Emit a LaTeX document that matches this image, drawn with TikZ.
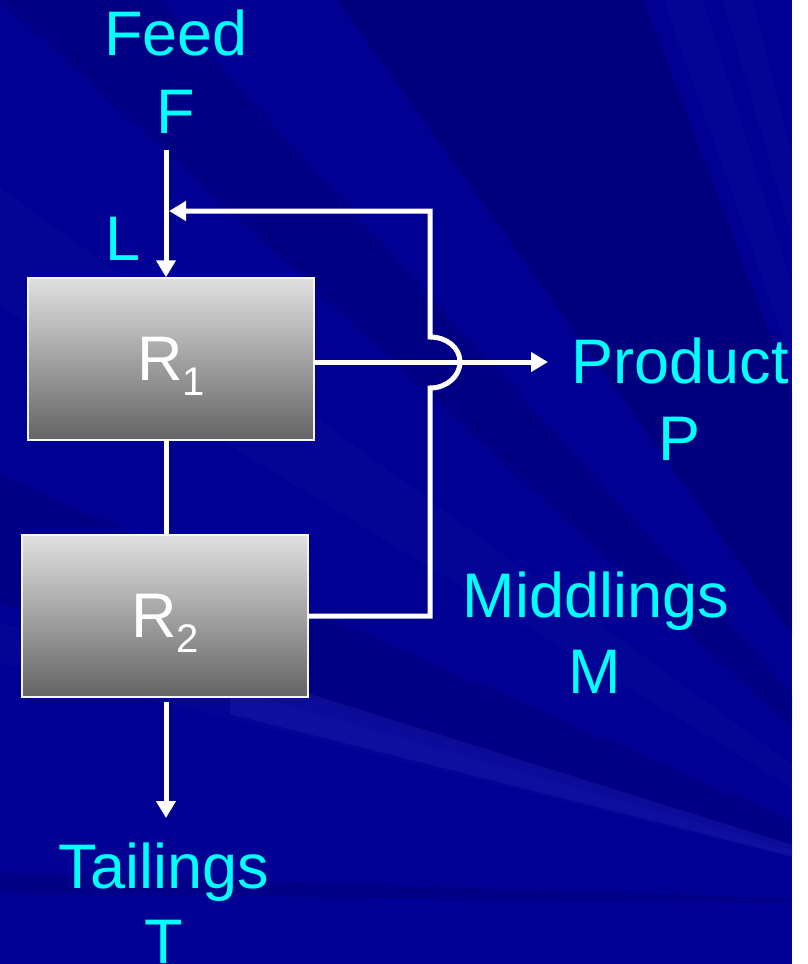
\documentclass[tikz,border=0pt]{standalone}
\usepackage{fontspec}
\setmainfont{Liberation Sans}
\usetikzlibrary{arrows.meta}
\definecolor{bgblue}{RGB}{0,0,146}
\definecolor{bgdark}{RGB}{0,0,100}
\definecolor{bglight}{RGB}{40,40,175}
\definecolor{labcyan}{RGB}{0,255,255}
\definecolor{boxtop}{RGB}{224,224,224}
\definecolor{boxbot}{RGB}{100,100,100}
\begin{document}
\begin{tikzpicture}[x=1pt,y=-1pt,
  lbl/.style={text=labcyan, font=\fontsize{63}{75}\selectfont, anchor=base, inner sep=0pt},
  reactor/.style={draw=white!92!gray, line width=1.5pt, minimum width=286pt, minimum height=162pt,
    top color=boxtop, bottom color=boxbot, text=white, font=\fontsize{63}{75}\selectfont,
    inner sep=0pt, text depth=0pt},
  flow/.style={draw=white, line width=5pt, line join=miter},
  tip/.style={-{Triangle[length=17pt,width=19pt]}}
]
% background
\fill[white] (0,0) rectangle (808,964);
\fill[bgblue] (0,0) rectangle (792,964);
\begin{scope}
  \clip (0,0) rectangle (792,964);
  \coordinate (S) at (985,905);
  \fill[bgdark, opacity=0.4] (S) -- (330,-10) -- (640,-10) -- cycle;
  \fill[bgdark, opacity=0.3] (S) -- (-10,-10) -- (150,-10) -- cycle;
  \fill[bglight, opacity=0.12] (S) -- (660,-10) -- (700,-10) -- cycle;
  \fill[bglight, opacity=0.12] (S) -- (720,-10) -- (750,-10) -- cycle;
  \fill[bglight, opacity=0.12] (S) -- (-10,180) -- (-10,300) -- cycle;
  \fill[bgdark, opacity=0.25] (S) -- (-10,470) -- (-10,600) -- cycle;
  \fill[bglight, opacity=0.12] (S) -- (-10,620) -- (-10,660) -- cycle;
  \fill[bglight, opacity=0.32] (230,669) -- (S) -- (230,714) -- cycle;
  \fill[bgdark, opacity=0.25] (-10,872) -- (S) -- (-10,893) -- cycle;
\end{scope}
% labels
\node[lbl] (feed) at (176,55) {Feed};
\node[lbl] (F) at (176,133) {F};
\node[lbl] (L) at (123,260) {L};
\node[lbl] (prod) at (680,383) {Product};
\node[lbl] (P) at (680,460) {P};
\node[lbl] (mid) at (596,617) {Middlings};
\node[lbl] (M) at (595,693) {M};
\node[lbl] (tail) at (164,888) {Tailings};
\node[lbl] (T) at (164,963) {T};
% reactors
\node[reactor] (R1) at (171,359) {R\raisebox{-15pt}{\fontsize{40}{48}\selectfont 1}};
\node[reactor] (R2) at (165,616) {R\raisebox{-15pt}{\fontsize{40}{48}\selectfont 2}};
% coordinates
\coordinate (fs) at (166,150);
\coordinate (tl) at (166,818);
\coordinate (hop) at (430,362);
\coordinate (pend) at (548,362);
\coordinate (hopb) at (430,388);
\coordinate (hopt) at (430,337);
\coordinate (hopr) at (460,362);
\coordinate (rc) at (430,211);
\coordinate (rce) at (169,211);
% connectors
\draw[flow,tip] (fs) -- (fs |- R1.north);
\draw[flow] (fs |- R1.south) -- (fs |- R2.north);
\draw[flow,tip] ([yshift=-4pt]fs |- R2.south) -- (tl);
\draw[flow,tip] (R1.east |- hop) -- (pend);
\draw[flow,tip] (R2.east) -- (R2.east -| hopb) -- (hopb)
  .. controls (447,388) and (460,376) .. (hopr)
  .. controls (460,348) and (447,337) .. (hopt) -- (rc) -- (rce);
\end{tikzpicture}
\end{document}
